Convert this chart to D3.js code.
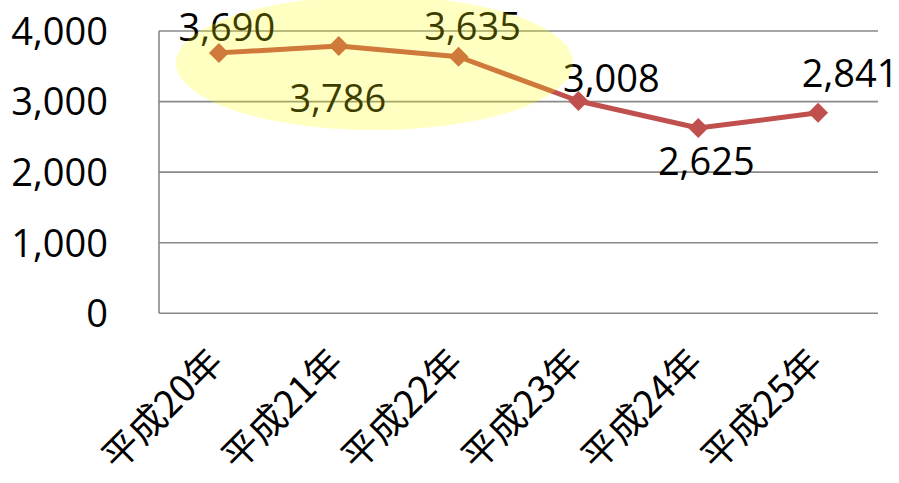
<!DOCTYPE html>
<html>
<head>
<meta charset="utf-8">
<script src="https://cdn.jsdelivr.net/npm/d3@7"></script>
<style>
  html, body { margin: 0; padding: 0; background: #fff; }
  svg { display: block; }
</style>
</head>
<body>
<svg id="chart" width="899" height="483"></svg>
<script>
// Yearly values (Heisei 20–25)
const categories = ["平成20年", "平成21年", "平成22年", "平成23年", "平成24年", "平成25年"];
const values = [3690, 3786, 3635, 3008, 2625, 2841];
const yTicks = [0, 1000, 2000, 3000, 4000];

// Per-label nudges for the value labels (dx, dy from the marker, in px)
const labelNudges = [[8, -12], [-1, 66], [14, -17], [33, -9], [8, 47], [32, -26]];

const W = 899, H = 483;
const plot = { left: 159, right: 878, top: 31, bottom: 313.3 };

const svg = d3.select("#chart");

const x = d3.scaleBand().domain(categories).range([plot.left, plot.right]);
const cx = c => x(c) + x.bandwidth() / 2;
const y = d3.scaleLinear().domain([0, 4000]).range([plot.bottom, plot.top]);

const numFont = "'Open Sans', 'Liberation Sans', sans-serif";
const fmt = d3.format(",");

// Horizontal gridlines
svg.append("g")
  .selectAll("line")
  .data(yTicks.filter(t => t > 0))
  .join("line")
  .attr("x1", plot.left).attr("x2", plot.right)
  .attr("y1", d => y(d)).attr("y2", d => y(d))
  .attr("stroke", "#898989").attr("stroke-width", 1.6);

// Axis lines
svg.append("line")
  .attr("x1", plot.left).attr("x2", plot.left)
  .attr("y1", plot.top).attr("y2", plot.bottom)
  .attr("stroke", "#898989").attr("stroke-width", 1.6);
svg.append("line")
  .attr("x1", plot.left).attr("x2", plot.right)
  .attr("y1", plot.bottom).attr("y2", plot.bottom)
  .attr("stroke", "#898989").attr("stroke-width", 1.6);

// Y axis labels
const yAxis = d3.axisLeft(y).tickValues(yTicks).tickFormat(fmt).tickSize(0).tickPadding(0);
const yg = svg.append("g").attr("transform", `translate(108,0)`).call(yAxis);
yg.select(".domain").remove();
yg.selectAll("text")
  .attr("font-family", numFont).attr("font-size", 38).attr("fill", "#000")
  .attr("dy", "0.35em");

// X axis labels, rotated
const xAxis = d3.axisBottom(x).tickSize(0).tickPadding(0);
const xg = svg.append("g").attr("transform", `translate(0,${plot.bottom})`).call(xAxis);
xg.select(".domain").remove();
xg.selectAll("text")
  .attr("font-family", "'Noto Sans CJK JP', sans-serif")
  .attr("font-size", 37).attr("fill", "#000")
  .attr("text-anchor", "end")
  .attr("dy", null).attr("y", 0)
  .attr("dominant-baseline", "central")
  .attr("transform", "translate(-5,40) rotate(-45)");

// Series line
const pts = categories.map((c, i) => ({ c, v: values[i], i }));
svg.append("path")
  .datum(pts)
  .attr("d", d3.line().x(d => cx(d.c)).y(d => y(d.v)))
  .attr("fill", "none").attr("stroke", "#C0504D").attr("stroke-width", 5)
  .attr("stroke-linejoin", "round");

// Diamond markers
const r = 10;
svg.append("g")
  .selectAll("path")
  .data(pts)
  .join("path")
  .attr("transform", d => `translate(${cx(d.c)},${y(d.v)})`)
  .attr("d", `M0,${-r}L${r},0L0,${r}L${-r},0Z`)
  .attr("fill", "#C0504D");

// Value labels
svg.append("g")
  .selectAll("text")
  .data(pts)
  .join("text")
  .attr("x", d => cx(d.c) + labelNudges[d.i][0])
  .attr("y", d => y(d.v) + labelNudges[d.i][1])
  .attr("text-anchor", "middle")
  .attr("font-family", numFont).attr("font-size", 38).attr("fill", "#000")
  .text(d => fmt(d.v));

// Translucent highlight ellipse over the first three years
svg.append("ellipse")
  .attr("cx", 374.5).attr("cy", 63)
  .attr("rx", 198.5).attr("ry", 67)
  .attr("fill", "rgba(255,255,0,0.24)");
</script>
</body>
</html>
